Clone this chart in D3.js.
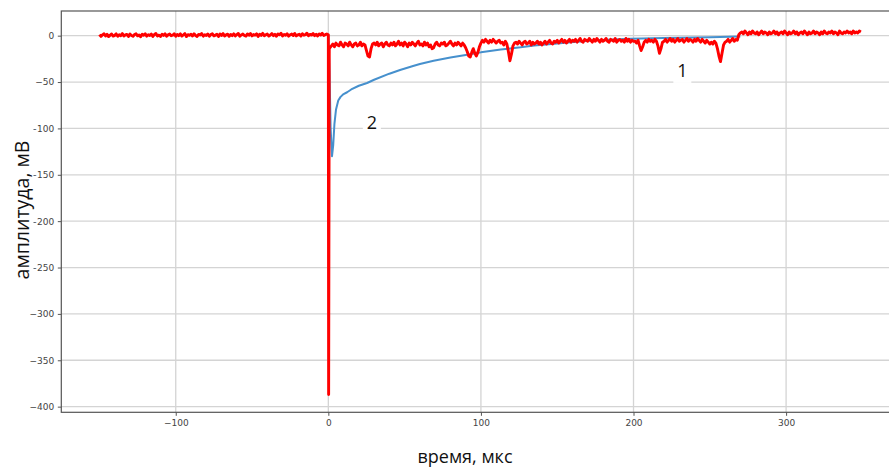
<!DOCTYPE html>
<html>
<head>
<meta charset="utf-8">
<script src="https://cdn.jsdelivr.net/npm/d3@7"></script>
<style>
  body { margin: 0; background: #fff; }
</style>
</head>
<body>
<div id="chart"></div>
<script>
// signal 1 (red): before the pulse, one sample per us from -150 to 0
const redPreStart = -150;
const redPreStep = 1;
const redPreValues = [
  1.2, -0.8, 0.9, 2.0, -0.3, 1.5, -1.0, 0.6, 1.8, -0.5,
  0.3, 1.9, -0.7, 1.1, 0.0, 2.2, -0.4, 0.8, 1.4, -0.9,
  1.7, 0.2, -0.6, 1.3, 2.1, -0.2, 0.7, -1.1, 1.6, 0.4,
  2.0, -0.5, 1.0, 0.1, 1.8, -0.8, 1.2, 2.3, -0.3, 0.6,
  -0.9, 1.5, 0.3, 2.0, -0.6, 0.9, 1.7, -0.1, 0.5, 2.1,
  -0.7, 1.3, 0.0, 1.9, -0.4, 0.8, 2.2, -1.0, 1.1, 0.4,
  1.6, -0.3, 2.0, 0.2, -0.8, 1.4, 0.7, 2.4, -0.5, 1.0,
  0.1, 1.8, -0.6, 1.2, 2.1, -0.2, 0.6, 1.5, -0.9, 1.9,
  0.3, 2.2, -0.4, 0.9, 1.6, -0.7, 1.3, 0.0, 2.0, -0.3,
  1.1, 2.4, -0.6, 0.8, 1.7, 0.2, -0.5, 1.9, 0.5, 2.3,
  -0.2, 1.2, 0.6, 2.0, -0.8, 1.5, 0.3, 2.5, -0.1, 1.0,
  1.8, -0.4, 0.7, 2.2, 0.0, 1.4, -0.6, 1.9, 0.9, 2.6,
  -0.3, 1.3, 0.4, 2.1, -0.5, 1.0, 1.7, 0.1, 2.4, -0.2,
  0.8, 1.6, -0.4, 2.0, 0.5, 1.2, 2.7, -0.1, 1.4, 0.6,
  2.2, 0.0, 1.5, -0.3, 1.9, 0.7, 2.5, 0.2, 1.1, 1.8,
  1.0
];
// the spike at t = 0
const redSpikeTimes = [0.2, 0.6];
const redSpikeValues = [-387, -14];
// after the pulse, one sample per us from 1 to 349
const redPostStart = 1;
const redPostStep = 1;
const redPostValues = [
  -13, -11, -9, -12, -8, -10, -11, -7, -10, -12,
  -8, -9, -11, -7, -10, -12, -9, -8, -11, -10,
  -7, -11, -9, -10, -16, -22, -23, -14, -9, -8,
  -10, -7, -11, -9, -8, -12, -9, -7, -10, -11,
  -8, -10, -7, -11, -9, -6, -10, -8, -11, -7,
  -9, -12, -8, -10, -7, -9, -11, -8, -6, -10,
  -9, -11, -7, -10, -8, -12, -10, -14, -13, -9,
  -7, -10, -11, -8, -9, -7, -11, -10, -8, -6,
  -9, -11, -8, -10, -7, -9, -11, -8, -10, -13,
  -17, -22, -23, -18, -14, -19, -22, -18, -12, -8,
  -5, -7, -4, -6, -8, -5, -7, -4, -6, -8,
  -6, -5, -8, -7, -10, -6, -9, -17, -27, -20,
  -11, -8, -7, -9, -6, -8, -10, -7, -6, -9,
  -8, -6, -10, -7, -9, -8, -6, -9, -7, -10,
  -8, -6, -9, -7, -5, -8, -9, -6, -7, -5,
  -8, -6, -4, -7, -5, -8, -6, -4, -7, -5,
  -6, -4, -7, -5, -3, -6, -7, -4, -5, -6,
  -3, -5, -7, -4, -6, -3, -5, -7, -4, -6,
  -5, -3, -6, -7, -4, -5, -6, -3, -7, -5,
  -4, -6, -5, -7, -3, -6, -4, -7, -5, -6,
  -6, -8, -5, -11, -16, -12, -7, -5, -7, -4,
  -6, -5, -7, -4, -6, -11, -19, -14, -7, -6,
  -4, -7, -5, -3, -6, -4, -7, -5, -3, -6,
  -5, -4, -7, -5, -3, -6, -4, -5, -7, -4,
  -6, -3, -5, -7, -4, -6, -8, -5, -7, -9,
  -7, -9, -6, -8, -14, -22, -28, -19, -10, -7,
  -6, -4, -7, -5, -3, -6, -4, -5, 1, 3,
  4, 2, 5, 3, 1, 4, 2, 5, 3, 2,
  4, 1, 3, 5, 2, 4, 3, 1, 4, 2,
  3, 5, 2, 4, 1, 3, 4, 2, 5, 3,
  1, 4, 2, 3, 5, 2, 4, 1, 3, 4,
  2, 5, 3, 1, 4, 2, 3, 5, 2, 4,
  3, 1, 4, 2, 5, 3, 2, 4, 3, 5,
  2, 4, 3, 1, 5, 3, 2, 4, 3, 5,
  3, 4, 2, 5, 3, 4, 3, 5, 4
];

// signal 2 (blue)
const blueTimes = [-0.5, 0, 0.8, 1.5, 2.4, 3.2, 4, 5, 6.5, 8, 10, 12.3, 15, 20, 25.4, 30, 40, 47, 55, 60, 69, 80, 91, 100, 113, 126, 135, 150, 159, 175, 198, 220, 250, 270];
const blueValues = [0, 0, -40, -100, -130, -118, -95, -80, -70, -66, -63, -61, -58, -54, -51, -47.5, -41, -37, -33, -30.5, -27, -23.5, -20.5, -18, -15, -12.6, -10.5, -8.5, -7, -5, -3.2, -2.5, -1.8, -1];

const xTicks = [-100, 0, 100, 200, 300];
const yTicks = [0, -50, -100, -150, -200, -250, -300, -350, -400];
const xTitle = "время, мкс";
const yTitle = "амплитуда, мВ";
const curveLabels = [{text: "1", t: 232, v: -38}, {text: "2", t: 28.5, v: -94}];

const width = 889;
const height = 469;
const margin = {top: 11, right: -3, bottom: 56.7, left: 61.3};
const innerW = width - margin.left - margin.right;
const innerH = height - margin.top - margin.bottom;

const redData = redPreValues.map((v, i) => [redPreStart + i * redPreStep, v])
  .concat(redSpikeTimes.map((t, i) => [t, redSpikeValues[i]]))
  .concat(redPostValues.map((v, i) => [redPostStart + i * redPostStep, v]));
const blueData = blueTimes.map((t, i) => [t, blueValues[i]]);

const svg = d3.select("#chart").append("svg")
  .attr("width", width)
  .attr("height", height)
  .style("display", "block");

const g = svg.append("g")
  .attr("transform", `translate(${margin.left},${margin.top})`);

const x = d3.scaleLinear().domain([-175, 369.4]).range([0, innerW]);
const y = d3.scaleLinear().domain([-406.1, 26.6]).range([innerH, 0]);

// grid
g.append("g")
  .attr("stroke", "#d4d4d4")
  .attr("stroke-width", 1.3)
  .call(gg => gg.selectAll(".vx").data(xTicks).join("line")
    .attr("x1", d => x(d)).attr("x2", d => x(d))
    .attr("y1", 0).attr("y2", innerH))
  .call(gg => gg.selectAll(".hy").data(yTicks).join("line")
    .attr("x1", 0).attr("x2", innerW)
    .attr("y1", d => y(d)).attr("y2", d => y(d)));

const line = d3.line().x(d => x(d[0])).y(d => y(d[1]));

g.append("path")
  .datum(blueData)
  .attr("fill", "none")
  .attr("stroke", "#4690cd")
  .attr("stroke-width", 2)
  .attr("stroke-linejoin", "round")
  .attr("d", line);

g.append("path")
  .datum(redData)
  .attr("fill", "none")
  .attr("stroke", "#ff0000")
  .attr("stroke-width", 2.9)
  .attr("stroke-linejoin", "round")
  .attr("d", line);

// axes
const xAxis = g.append("g")
  .attr("transform", `translate(0,${innerH})`)
  .call(d3.axisBottom(x).tickValues(xTicks).tickSize(3.5).tickPadding(3.5));
const yAxis = g.append("g")
  .call(d3.axisLeft(y).tickValues(yTicks).tickSize(3.5).tickPadding(3.5));

[xAxis, yAxis].forEach(a => {
  a.select(".domain").remove();
  a.selectAll(".tick line").attr("stroke", "#555").attr("stroke-width", 1);
  a.selectAll(".tick text")
    .attr("fill", "#444")
    .attr("font-family", "DejaVu Sans")
    .attr("font-size", 9);
});

// spines (right one is outside the picture)
g.append("rect")
  .attr("width", innerW)
  .attr("height", innerH)
  .attr("fill", "none")
  .attr("stroke", "#555")
  .attr("stroke-width", 1.2);

// curve numbers on white patches
const lab = g.append("g").selectAll("g").data(curveLabels).join("g")
  .attr("transform", d => `translate(${x(d.t)},${y(d.v)})`);
lab.append("rect")
  .attr("x", -9).attr("y", -14).attr("width", 18).attr("height", 26)
  .attr("fill", "#fff");
lab.append("text")
  .attr("text-anchor", "middle")
  .attr("dy", "0.35em")
  .attr("font-family", "Open Sans")
  .attr("font-size", 18)
  .attr("fill", "#111")
  .text(d => d.text);

// axis titles, the y one on a white box like the source
svg.append("rect")
  .attr("x", 5).attr("y", 62).attr("width", 28.5).attr("height", 224)
  .attr("fill", "#fff");
svg.append("text")
  .attr("transform", `translate(29,210) rotate(-90)`)
  .attr("text-anchor", "middle")
  .attr("font-family", "Open Sans")
  .attr("font-size", 19.5)
  .attr("fill", "#111")
  .text(yTitle);

svg.append("text")
  .attr("x", 465)
  .attr("y", 463)
  .attr("text-anchor", "middle")
  .attr("font-family", "Open Sans")
  .attr("font-size", 18)
  .attr("fill", "#111")
  .text(xTitle);
</script>
</body>
</html>
